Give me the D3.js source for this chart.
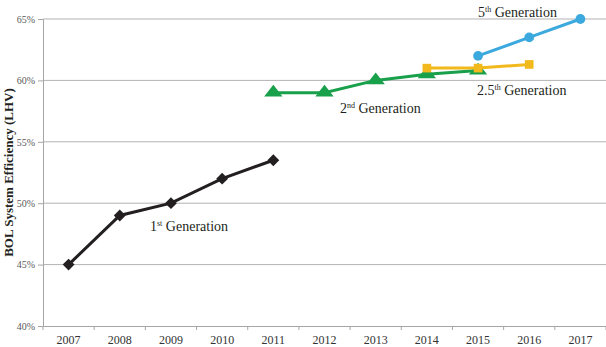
<!DOCTYPE html>
<html>
<head>
<meta charset="utf-8">
<script src="https://cdn.jsdelivr.net/npm/d3@7"></script>
<style>
  body { margin: 0; background: #fff; }
  svg { display: block; }
</style>
</head>
<body>
<svg id="chart" width="606" height="347"></svg>
<script>
// years on the x axis
const years = ["2007", "2008", "2009", "2010", "2011", "2012", "2013", "2014", "2015", "2016", "2017"];
const yTicks = [40, 45, 50, 55, 60, 65];

// efficiency per generation (percent)
const gen1 = [["2007", 45], ["2008", 49], ["2009", 50], ["2010", 52], ["2011", 53.5]];
const gen2 = [["2011", 59], ["2012", 59], ["2013", 60], ["2014", 60.5], ["2015", 60.8]];
const gen25 = [["2014", 61], ["2015", 61], ["2016", 61.3]];
const gen5 = [["2015", 62], ["2016", 63.5], ["2017", 65]];

const serif = "'Liberation Serif', 'Times New Roman', serif";
const svg = d3.select("#chart");
const margin = { top: 19, right: 0, bottom: 21, left: 43 };
const width = 606 - margin.left - margin.right;
const height = 347 - margin.top - margin.bottom;

const x = d3.scaleBand().domain(years).range([0, width]);
const y = d3.scaleLinear().domain([40, 65]).range([height, 0]);
const cx = d => x(d[0]) + x.bandwidth() / 2;

const g = svg.append("g").attr("transform", `translate(${margin.left},${margin.top})`);

// horizontal gridlines
g.selectAll(".grid")
 .data(yTicks.slice(1))
 .enter().append("line")
 .attr("x1", 0).attr("x2", width)
 .attr("y1", d => y(d)).attr("y2", d => y(d))
 .attr("stroke", "#b3b3b3").attr("stroke-width", 1);

// Y axis
const yAxis = g.append("g")
 .call(d3.axisLeft(y).tickValues(yTicks).tickFormat(d => d + "%").tickSize(5).tickPadding(3));
yAxis.attr("font-family", serif);
yAxis.select(".domain").attr("stroke", "#a6a6a6");
yAxis.selectAll(".tick line").attr("stroke", "#a6a6a6");
yAxis.selectAll("text").attr("fill", "#595959").style("font-size", "10px");

// X axis, ticks on band boundaries
const xAxis = g.append("g").attr("transform", `translate(0,${height})`)
 .call(d3.axisBottom(x).tickSize(0).tickPadding(9));
xAxis.attr("font-family", serif);
xAxis.select(".domain").attr("stroke", "#a6a6a6");
xAxis.selectAll("text").attr("fill", "#333").style("font-size", "12px");
xAxis.selectAll(".bound")
 .data(years.concat(["end"]))
 .enter().append("line")
 .attr("x1", (d, i) => i * x.step()).attr("x2", (d, i) => i * x.step())
 .attr("y1", 0).attr("y2", 4)
 .attr("stroke", "#a6a6a6");

// Y axis title
svg.append("text")
 .attr("transform", `translate(13,${margin.top + height / 2}) rotate(-90)`)
 .attr("text-anchor", "middle")
 .attr("font-family", serif)
 .style("font-size", "13px").style("font-weight", "bold")
 .attr("fill", "#231f20")
 .text("BOL System Efficiency (LHV)");

const line = d3.line().x(cx).y(d => y(d[1]));

function drawSeries(data, color, symbol, size, rot) {
  g.append("path").datum(data)
   .attr("d", line).attr("fill", "none")
   .attr("stroke", color).attr("stroke-width", 3);
  g.selectAll(null).data(data).enter().append("path")
   .attr("d", d3.symbol().type(symbol).size(size))
   .attr("transform", d => `translate(${cx(d)},${y(d[1])}) rotate(${rot}) scale(${symbol === d3.symbolTriangle ? "1.15,0.85" : "1"})`)
   .attr("fill", color);
}

drawSeries(gen1, "#231f20", d3.symbolSquare, 70, 45);
drawSeries(gen2, "#19a04b", d3.symbolTriangle, 110, 0);
drawSeries(gen25, "#f2b91c", d3.symbolSquare, 75, 0);
drawSeries(gen5, "#3ba9dd", d3.symbolCircle, 75, 0);

// generation labels
function genLabel(px, py, pre, sup, post) {
  const t = svg.append("text").attr("x", px).attr("y", py)
   .attr("font-family", serif)
   .style("font-size", "14px").attr("fill", "#231f20");
  t.append("tspan").text(pre);
  t.append("tspan").attr("dy", -5).style("font-size", "8px").text(sup);
  t.append("tspan").attr("dy", 5).text(" " + post);
}
genLabel(150, 231, "1", "st", "Generation");
genLabel(340, 113, "2", "nd", "Generation");
genLabel(477, 95, "2.5", "th", "Generation");
genLabel(478, 17, "5", "th", "Generation");
</script>
</body>
</html>
